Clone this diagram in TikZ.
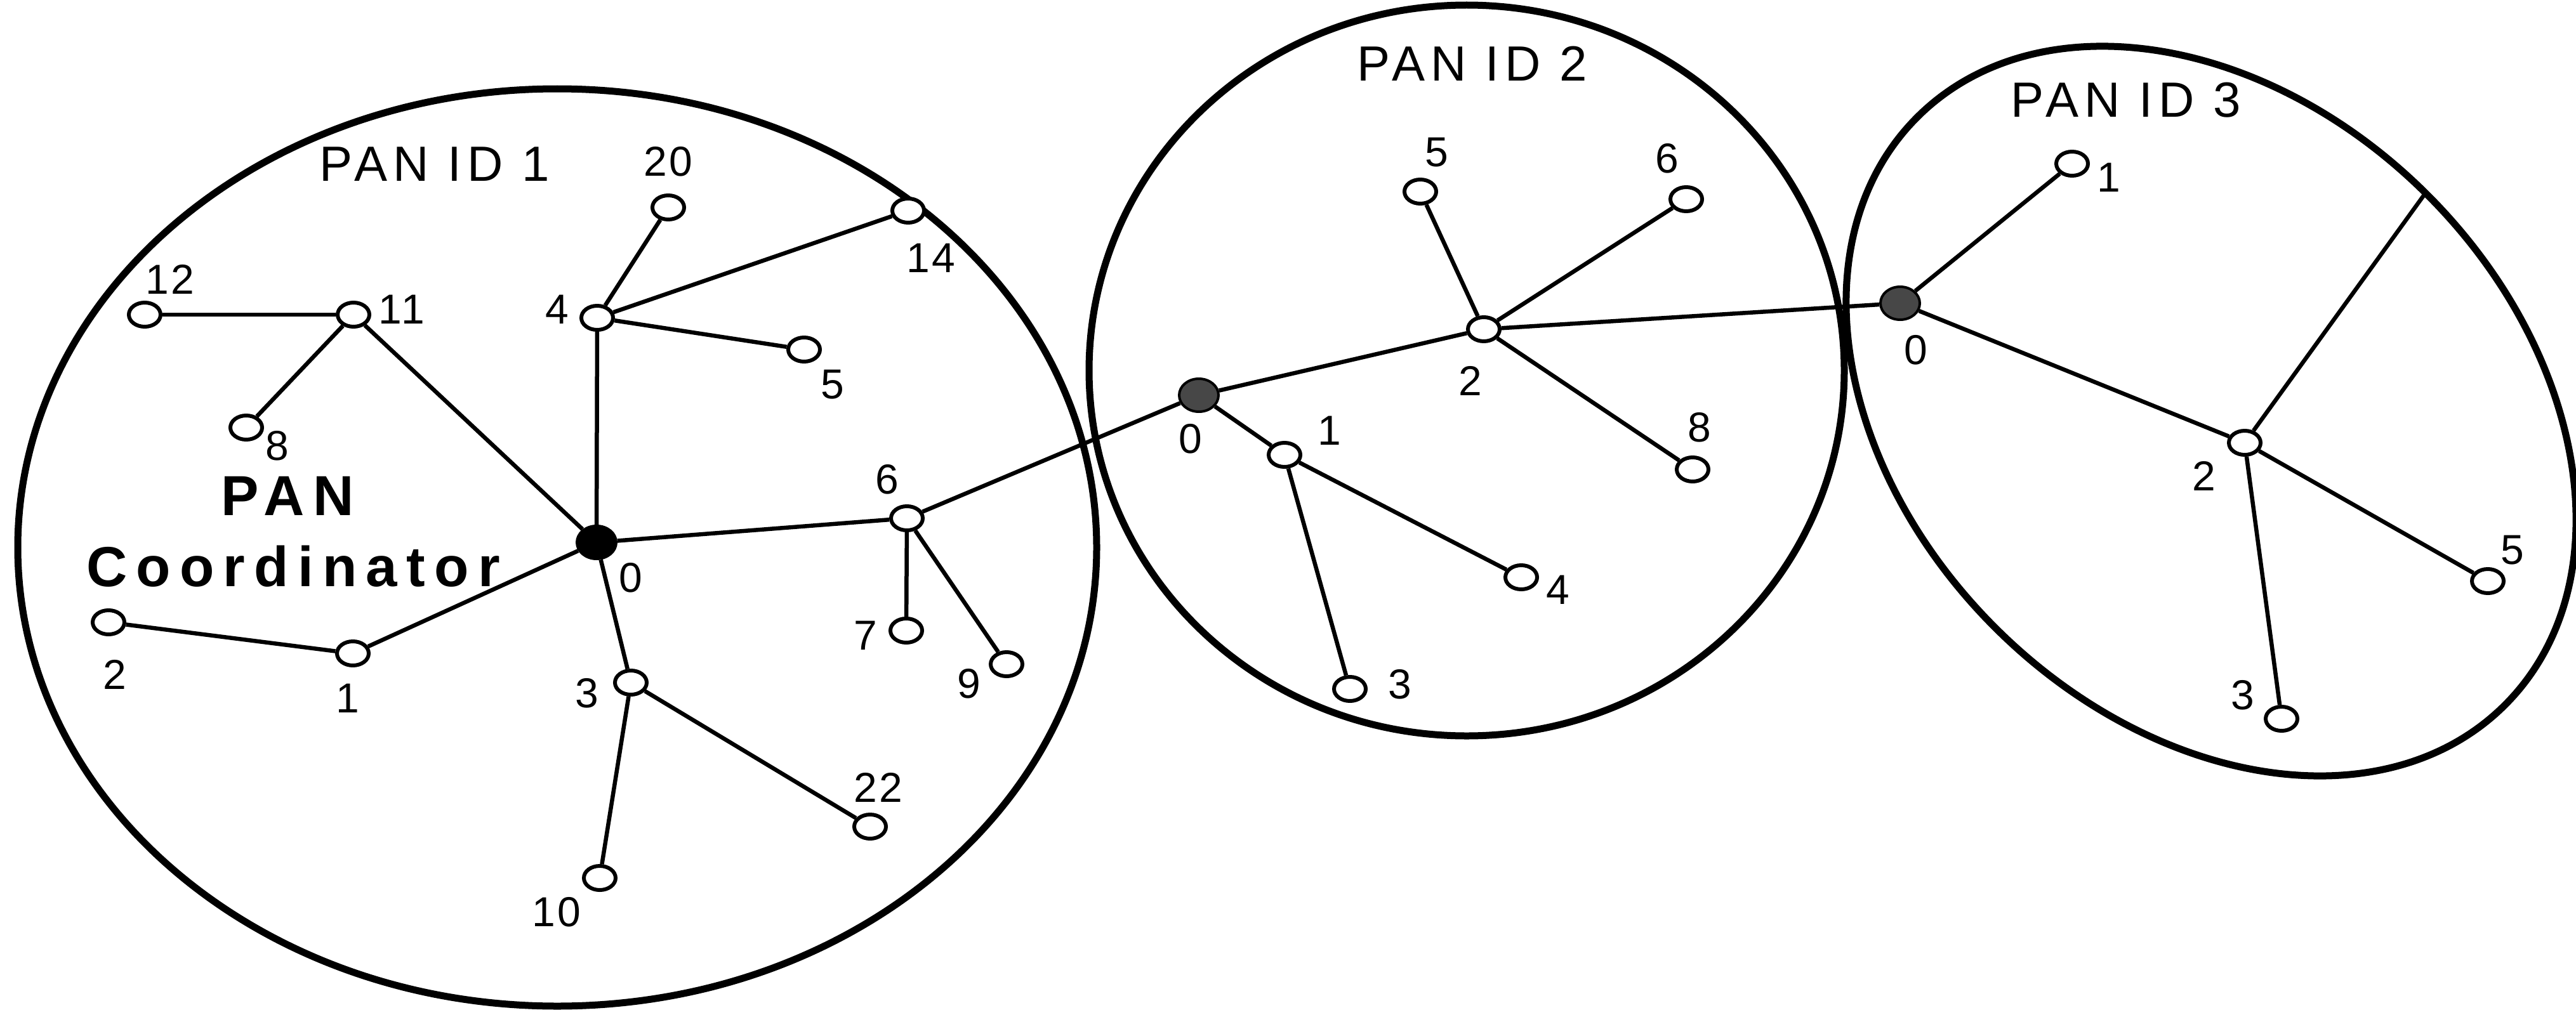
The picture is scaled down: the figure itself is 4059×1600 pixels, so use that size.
\documentclass[tikz,border=0pt]{standalone}
\usepackage{fontspec}
\setmainfont{Liberation Sans}
\usetikzlibrary{shapes.geometric}
\begin{document}
\begin{tikzpicture}[x=1pt,y=-1pt,
  dev/.style={ellipse, draw, line width=6pt, fill=white, minimum width=50pt, minimum height=38pt, inner sep=0pt},
  pancoord/.style={ellipse, draw, line width=4pt, fill=black, minimum width=62pt, minimum height=52pt, inner sep=0pt},
  subcoord/.style={pancoord, fill=black!72},
  link/.style={line width=6.5pt},
  panarea/.style={line width=11pt},
  num/.style={font=\fontsize{66}{70}\selectfont\addfontfeature{LetterSpace=6}, inner sep=0pt},
  panid/.style={font=\fontsize{78}{80}\selectfont\addfontfeature{LetterSpace=11}, inner sep=0pt},
  big/.style={font=\fontsize{89}{92}\selectfont\bfseries\addfontfeature{LetterSpace=16}, inner sep=0pt}
]
\fill[white] (0,0) rectangle (4059,1600);
\useasboundingbox (0,0) rectangle (4059,1600);

% PAN areas
\draw[panarea] (878,863) ellipse [x radius=850, y radius=723];
\draw[panarea] (2311,584) ellipse [x radius=595, y radius=576];
\draw[panarea, rotate around={-45:(3484,648)}] (3484,648) ellipse [x radius=655, y radius=482];

% PAN 1 nodes
\node[pancoord] (a0) at (940,855) {};
\node[dev] (a11) at (557,496) {};
\node[dev] (a12) at (228,496) {};
\node[dev] (a8) at (388,674) {};
\node[dev] (a4) at (941,501) {};
\node[dev] (a20) at (1053,327) {};
\node[dev] (a14) at (1431,332) {};
\node[dev] (a5) at (1267,551) {};
\node[dev] (a6) at (1429,817) {};
\node[dev] (a7) at (1428,994) {};
\node[dev] (a9) at (1586,1047) {};
\node[dev] (a3) at (994,1076) {};
\node[dev] (a22) at (1371,1303) {};
\node[dev] (a10) at (945,1384) {};
\node[dev] (a1) at (556,1030) {};
\node[dev] (a2) at (171,981) {};

% PAN 2 nodes
\node[subcoord] (b0) at (1889,623) {};
\node[dev] (b2) at (2338,519) {};
\node[dev] (b5) at (2238,302) {};
\node[dev] (b6) at (2657,314) {};
\node[dev] (b8) at (2667,740) {};
\node[dev] (b1) at (2024,717) {};
\node[dev] (b4) at (2397,910) {};
\node[dev] (b3) at (2127,1086) {};

% PAN 3 nodes
\node[subcoord] (c0) at (2994,478) {};
\node[dev] (c1) at (3265,258) {};
\node[dev] (c2) at (3537,698) {};
\node[dev] (c5) at (3920,916) {};
\node[dev] (c3) at (3595,1133) {};
\coordinate (cb) at (3822,304);

% links
\draw[link] (a0) -- (a11);
\draw[link] (a11) -- (a12);
\draw[link] (a11) -- (a8);
\draw[link] (a0) -- (a4);
\draw[link] (a4) -- (a20);
\draw[link] (a4) -- (a14);
\draw[link] (a4) -- (a5);
\draw[link] (a0) -- (a6);
\draw[link] (a6) -- (a7);
\draw[link] (a6) -- (a9);
\draw[link] (a0) -- (a3);
\draw[link] (a3) -- (a22);
\draw[link] (a3) -- (a10);
\draw[link] (a0) -- (a1);
\draw[link] (a1) -- (a2);
\draw[link] (a6) -- (b0);
\draw[link] (b0) -- (b2);
\draw[link] (b2) -- (b5);
\draw[link] (b2) -- (b6);
\draw[link] (b2) -- (b8);
\draw[link] (b0) -- (b1);
\draw[link] (b1) -- (b4);
\draw[link] (b1) -- (b3);
\draw[link] (b2) -- (c0);
\draw[link] (c0) -- (c1);
\draw[link] (c0) -- (c2);
\draw[link] (c2) -- (c5);
\draw[link] (c2) -- (c3);
\draw[link] (c2) -- (cb);

% labels PAN 1
\node[panid] (t1) at (685,259) {PAN ID 1};
\node[big] (tpan) at (453,782) {PAN};
\node[big] (tcoord) at (462,893) {Coordinator};
\node[num] (la0) at (994,911) {0};
\node[num] (la11) at (633,488) {11};
\node[num] (la12) at (268,440) {12};
\node[num] (la8) at (437,703) {8};
\node[num] (la4) at (878,488) {4};
\node[num] (la20) at (1053,255) {20};
\node[num] (la14) at (1467,407) {14};
\node[num] (la5) at (1312,606) {5};
\node[num] (la6) at (1398,756) {6};
\node[num] (la7) at (1364,1002) {7};
\node[num] (la9) at (1527,1078) {9};
\node[num] (la3) at (925,1093) {3};
\node[num] (la22) at (1384,1241) {22};
\node[num] (la10) at (877,1438) {10};
\node[num] (la1) at (548,1101) {1};
\node[num] (la2) at (181,1063) {2};

% labels PAN 2
\node[panid] (t2) at (2320,100) {PAN ID 2};
\node[num] (lb0) at (1876,692) {0};
\node[num] (lb2) at (2317,600) {2};
\node[num] (lb5) at (2264,240) {5};
\node[num] (lb6) at (2627,250) {6};
\node[num] (lb8) at (2678,674) {8};
\node[num] (lb1) at (2095,679) {1};
\node[num] (lb4) at (2455,930) {4};
\node[num] (lb3) at (2206,1079) {3};

% labels PAN 3
\node[panid] (t3) at (3350,158) {PAN ID 3};
\node[num] (lc0) at (3019,552) {0};
\node[num] (lc1) at (3323,280) {1};
\node[num] (lc2) at (3473,750) {2};
\node[num] (lc5) at (3959,867) {5};
\node[num] (lc3) at (3534,1096) {3};
\end{tikzpicture}
\end{document}
